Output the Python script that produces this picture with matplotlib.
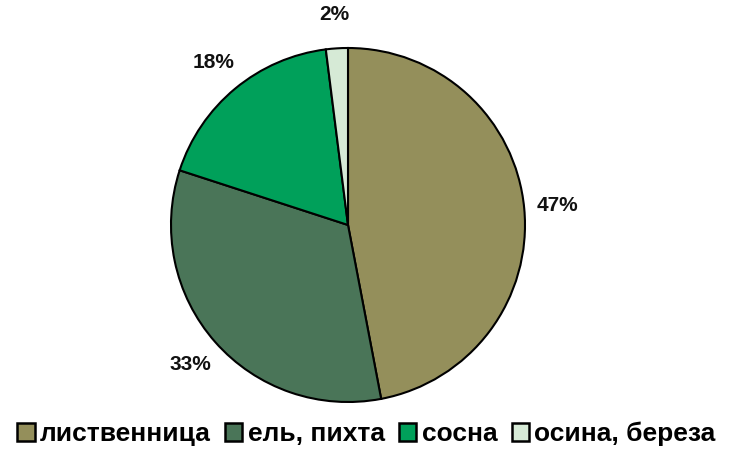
import matplotlib
matplotlib.use("Agg")
import matplotlib.pyplot as plt
from matplotlib.patches import Patch

categories = ["лиственница", "ель, пихта", "сосна", "осина, береза"]
values = [47, 33, 18, 2]
colors = ["#948F5B", "#4A7558", "#00A05A", "#D6EAD6"]

plt.rcParams['font.family'] = ['Liberation Sans', 'DejaVu Sans']

fig = plt.figure(figsize=(7.33, 4.5), dpi=100)
r = 177
cx, cy = 348, 225
ax = fig.add_axes([(cx - r) / 733, (450 - cy - r) / 450, 2 * r / 733, 2 * r / 450])
wedges, texts = ax.pie(values, colors=colors, startangle=90, counterclock=False,
                       wedgeprops=dict(edgecolor="black", linewidth=1.5),
                       labels=[f"{v}%" for v in values], labeldistance=1.19,
                       textprops=dict(fontsize=15, fontweight="bold", color="#111111"))
for t in texts:
    t.set_ha("center")
    t.set_va("center")
ax.set_aspect("equal")
ax.set_xlim(-1, 1)
ax.set_ylim(-1, 1)

handles = [Patch(facecolor=c, edgecolor="black", linewidth=1.8) for c in colors]
fig.legend(handles, categories, loc="center", bbox_to_anchor=(0.5, 1 - 434 / 450),
           ncol=4, frameon=False, handlelength=0.65, handleheight=0.65,
           handletextpad=0.2, columnspacing=0.55, borderaxespad=0, borderpad=0,
           prop=dict(size=19, weight="bold"))

fig.savefig("out.png", dpi=100)
